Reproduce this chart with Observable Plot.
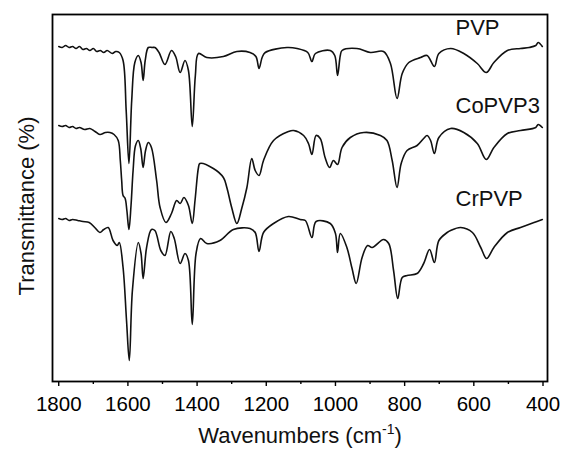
<!DOCTYPE html>
<html><head><meta charset="utf-8">
<script src="https://cdn.jsdelivr.net/npm/d3@7"></script>
<script src="https://cdn.jsdelivr.net/npm/@observablehq/plot@0.6"></script>
<style>body{margin:0;background:#fff}</style>
</head><body><div id="chart"></div>
<script>
// [wavenumber (cm-1), transmittance (arbitrary offset units)]
const pvp = [[1800,335],[1790,334],[1780,336],[1770,334],[1760,335],[1750,333],[1740,335],[1730,332],[1720,333],[1710,331],[1700,333],[1690,330],[1680,331],[1670,329],[1660,331],[1645,328],[1635,330],[1625,329],[1614,321],[1605,271],[1597,218],[1589,281],[1580,319],[1570,326],[1562,319],[1556,301],[1550,321],[1541,334],[1530,334],[1522,334],[1510,329],[1493,317],[1474,331],[1462,325],[1449,309],[1435,321],[1425,311],[1414,255],[1405,306],[1396,328],[1372,324],[1324,325],[1285,330],[1247,329],[1230,325],[1221,313],[1212,324],[1203,329],[1140,334],[1111,333],[1080,329],[1068,320],[1058,328],[1015,331],[1002,326],[994,306],[986,326],[981,331],[938,333],[899,329],[861,330],[841,318],[822,283],[807,308],[788,319],[754,324],[735,326],[714,315],[701,328],[667,333],[629,328],[590,318],[564,309],[542,319],[503,331],[465,333],[440,334],[421,336],[414,339],[402,335]];
const coPVP3 = [[1800,256],[1790,255],[1780,256],[1770,254],[1760,255],[1750,253],[1740,254],[1725,252],[1710,253],[1695,250],[1681,247],[1665,249],[1652,249],[1640,247],[1628,241],[1622,221],[1618,201],[1614,186],[1608,183],[1603,171],[1597,152],[1591,176],[1585,211],[1578,236],[1570,241],[1563,233],[1556,214],[1549,231],[1541,239],[1532,234],[1517,201],[1507,174],[1490,159],[1474,168],[1459,181],[1449,178],[1438,184],[1425,176],[1414,158],[1406,181],[1396,214],[1392,218],[1353,213],[1324,204],[1314,194],[1300,174],[1285,158],[1271,173],[1256,194],[1242,223],[1232,211],[1221,206],[1208,221],[1179,241],[1136,250],[1121,251],[1092,246],[1078,238],[1068,227],[1056,246],[1044,243],[1030,224],[1017,214],[1006,221],[994,217],[981,234],[957,244],[918,249],[870,246],[851,241],[836,221],[822,194],[810,218],[793,231],[764,236],[745,243],[735,246],[725,241],[714,228],[701,244],[667,253],[629,249],[590,238],[564,222],[542,234],[503,248],[465,251],[421,254],[414,257],[402,254]];
const crPVP = [[1800,163],[1790,162],[1780,163],[1770,161],[1760,162],[1745,161],[1730,160],[1712,159],[1696,154],[1681,149],[1670,152],[1657,154],[1643,141],[1631,136],[1625,139],[1614,114],[1604,61],[1596,21],[1587,91],[1570,139],[1562,128],[1556,103],[1546,134],[1532,152],[1522,151],[1505,131],[1493,126],[1476,150],[1466,143],[1449,118],[1435,128],[1425,121],[1414,57],[1403,128],[1390,143],[1372,138],[1334,141],[1295,152],[1247,153],[1232,149],[1221,130],[1208,149],[1179,158],[1136,165],[1102,162],[1087,161],[1068,144],[1056,160],[1015,158],[1000,148],[994,129],[986,148],[967,134],[952,113],[940,98],[923,124],[907,136],[894,134],[861,142],[846,138],[832,111],[820,83],[807,104],[793,106],[764,108],[745,118],[728,132],[714,119],[701,141],[677,149],[667,151],[638,154],[604,149],[580,134],[563,123],[542,134],[503,149],[465,154],[426,159],[402,162]];
const seriesNames = ["PVP", "CoPVP3", "CrPVP"];
const xMajor = [1800, 1600, 1400, 1200, 1000, 800, 600, 400];
const xMinor = [1700, 1500, 1300, 1100, 900, 700, 500];

const font = "'Liberation Sans', Arial, Helvetica, sans-serif";
const labelPos = [[653, 354], [653, 276], [653, 183]];
const labels = seriesNames.map((name, i) => ({name, x: labelPos[i][0], y: labelPos[i][1]}));

const chart = Plot.plot({
  width: 561, height: 449,
  marginLeft: 52, marginRight: 14, marginTop: 14, marginBottom: 68,
  style: {fontFamily: font, background: "#fff", color: "#000"},
  x: {domain: [1818, 387]},
  y: {domain: [0, 367], axis: null},
  marks: [
    Plot.axisX(xMinor, {tickSize: 3, tickFormat: () => "", label: null, strokeWidth: 1.4}),
    Plot.axisX(xMajor, {tickSize: 5, tickPadding: 10, tickFormat: "d", fontSize: 20.5, label: null, strokeWidth: 1.4}),
    Plot.line(pvp, {x: d => d[0], y: d => d[1], curve: "catmull-rom", stroke: "#111", strokeWidth: 1.6}),
    Plot.line(coPVP3, {x: d => d[0], y: d => d[1], curve: "catmull-rom", stroke: "#111", strokeWidth: 1.6}),
    Plot.line(crPVP, {x: d => d[0], y: d => d[1], curve: "catmull-rom", stroke: "#111", strokeWidth: 1.6}),
    Plot.text(labels, {x: "x", y: "y", text: "name", textAnchor: "start", lineAnchor: "middle", fontSize: 22, fill: "#111"}),
    Plot.frame({stroke: "#000", strokeWidth: 1.8})
  ]
});
document.getElementById("chart").appendChild(chart);

const svg = d3.select(chart);
const xl = svg.append("text")
  .attr("x", 300).attr("y", 443)
  .attr("text-anchor", "middle")
  .attr("font-size", 22).attr("font-family", font).attr("fill", "#111");
xl.append("tspan").text("Wavenumbers (cm");
xl.append("tspan").attr("dy", -9).attr("font-size", 14).text("-1");
xl.append("tspan").attr("dy", 9).text(")");

svg.append("text")
  .attr("transform", "translate(34,206) rotate(-90)")
  .attr("text-anchor", "middle")
  .attr("font-size", 22).attr("font-family", font).attr("fill", "#111")
  .text("Transmittance (%)");
</script>
</body></html>
